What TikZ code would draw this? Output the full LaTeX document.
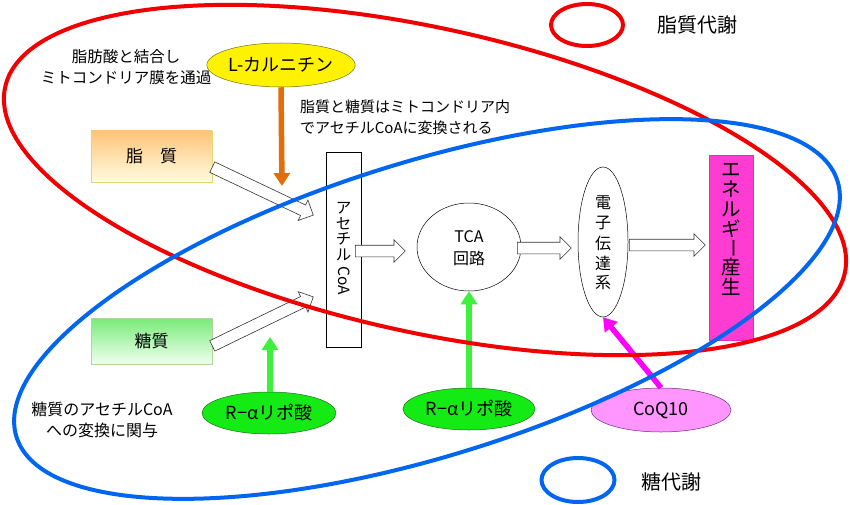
\documentclass[tikz,border=0pt]{standalone}
\usepackage{fontspec}
\setmainfont{Noto Sans CJK JP}
\usetikzlibrary{arrows.meta,shapes.geometric,shapes.arrows,calc}
\definecolor{redline}{RGB}{240,0,0}
\definecolor{blueline}{RGB}{0,102,240}
\definecolor{orangearr}{RGB}{228,108,10}
\definecolor{greenfill}{RGB}{20,235,20}
\definecolor{greenarr}{RGB}{60,240,60}
\definecolor{magbox}{RGB}{255,60,210}
\definecolor{magarr}{RGB}{255,0,255}
\definecolor{coqfill}{RGB}{255,150,255}
\newcommand\fs[2]{\fontsize{#1}{#2}\selectfont}
\newcommand\blockarrow[3]{\path let \p1=(#2), \p2=(#3), \n1={atan2(\y2-\y1,\x2-\x1)}, \n2={veclen(\x2-\x1,\y2-\y1)} in node[barrow, minimum height=\n2, rotate=\n1, anchor=tail] (#1) at (\p1) {};}
\tikzset{
  barrow/.style={single arrow, draw=black!80, fill=white, line width=0.6pt, inner xsep=0pt, inner ysep=5.5pt, single arrow head extend=5.5pt, single arrow tip angle=90},
  ellnode/.style={ellipse, draw, line width=0.5pt, inner sep=0pt},
  colarrow/.style={line width=5.5pt, -{Triangle[length=13pt,width=16pt]}},
  bigell/.style={line width=4pt},
  note/.style={inner sep=0pt, font=\fs{15.5}{20.5}},
  legtext/.style={inner sep=0pt, font=\fs{20}{24}},
  vch/.style={inner sep=0pt}
}
\begin{document}
\begin{tikzpicture}[x=1pt,y=-1pt]
\useasboundingbox[fill=white] (0,0) rectangle (850,505);

% source boxes
\node[rectangle, draw={rgb,255:red,230;green,210;blue,110}, top color={rgb,255:red,255;green,196;blue,120}, bottom color={rgb,255:red,255;green,252;blue,225}, minimum width=121pt, minimum height=51pt, font=\fs{17}{20}] (lipid) at (151.5,156.5) {脂　質};
\node[rectangle, draw={rgb,255:red,175;green,215;blue,155}, top color={rgb,255:red,120;green,235;blue,120}, bottom color={rgb,255:red,240;green,255;blue,240}, minimum width=121pt, minimum height=46pt, font=\fs{17}{20}] (sugar) at (151.5,341) {糖質};

% acetyl CoA
\node[rectangle, draw, line width=0.6pt, fill=white, minimum width=35pt, minimum height=195pt, inner sep=0pt] (acoa) at (343.5,249.5) {};
\foreach \ch [count=\i from 0] in {ア,セ,チ,ル}
  \node[vch, font=\fs{15.5}{16}] (ac\i) at (343.5,208+15.6*\i) {\ch};
\node[vch, font=\fs{15.5}{16}, rotate=-90] (accoa) at (344,281) {CoA};

% TCA
\node[ellnode, fill=white, minimum width=104pt, minimum height=88pt] (tca) at (469,247) {};
\node[vch, font=\fs{16}{16}] (tcat) at (469,237) {TCA};
\node[vch, font=\fs{16}{16}] (tcak) at (469,258) {回路};

% electron transport
\node[ellnode, fill=white, minimum width=50pt, minimum height=150pt] (etc) at (603,242) {};
\foreach \ch [count=\i from 0] in {電,子,伝,達,系}
  \node[vch, font=\fs{16}{16}] (et\i) at (603,203+20*\i) {\ch};

% energy
\node[rectangle, fill=magbox, draw=magbox!85!black, line width=0.4pt, minimum width=44pt, minimum height=185pt] (energy) at (731,247.5) {};
\foreach \ch [count=\i from 0] in {エ,ネ,ル,ギ}
  \node[vch, font=\fs{19.5}{20}] (en\i) at (731,170+19.5*\i) {\ch};
\node[vch, font=\fs{19.5}{20}, rotate=-90] (en4) at (731,248) {ー};
\node[vch, font=\fs{19.5}{20}] (en5) at (731,267.5) {産};
\node[vch, font=\fs{19.5}{20}] (en6) at (731,287) {生};

% supplements
\node[ellnode, fill=yellow, draw={rgb,255:red,110;green,110;blue,40}, minimum width=132pt, minimum height=44pt, font=\fs{18}{20}] (carn) at (281,65) {L-カルニチン};
\node[ellnode, fill=greenfill, draw={rgb,255:red,30;green,110;blue,30}, minimum width=134pt, minimum height=42pt, font=\fs{18}{20}] (rala1) at (269,413) {R−αリポ酸};
\node[ellnode, fill=greenfill, draw={rgb,255:red,30;green,110;blue,30}, minimum width=132pt, minimum height=42pt, font=\fs{18}{20}] (rala2) at (469,409) {R−αリポ酸};
\node[ellnode, fill=coqfill, draw={rgb,255:red,110;green,40;blue,130}, minimum width=140pt, minimum height=44pt, font=\fs{18}{20}] (coq) at (661,410) {CoQ10};

% notes
\node[note, align=center] (note1) at (126,67) {脂肪酸と結合し\\ミトコンドリア膜を通過};
\node[note, align=left, anchor=west, font=\fs{15}{21}] (note2) at (300,117.5) {脂質と糖質はミトコンドリア内\\でアセチルCoAに変換される};
\node[note, align=center, font=\fs{16}{20.5}] (note3) at (102,420) {糖質のアセチルCoA\\への変換に関与};

% block arrows
\coordinate (a1s) at (212,167);
\coordinate (a1e) at (313,215);
\coordinate (a2s) at (212,346);
\coordinate (a2e) at (313,297);
\coordinate (a3s) at (355,251);
\coordinate (a3e) at (405,251);
\coordinate (a4s) at (517,248);
\coordinate (a4e) at (571,248);
\coordinate (a5s) at (629,245);
\coordinate (a5e) at (705,245);
\blockarrow{b1}{a1s}{a1e}
\blockarrow{b2}{a2s}{a2e}
\blockarrow{b3}{a3s}{a3e}
\blockarrow{b4}{a4s}{a4e}
\blockarrow{b5}{a5s}{a5e}

% coloured arrows
\coordinate (carntip) at (282,186);
\coordinate (r1tip) at (270,337);
\draw[colarrow, orangearr] (carn.south) -- (carntip);
\draw[colarrow, greenarr] (rala1.north -| r1tip) -- (r1tip);
\draw[colarrow, greenarr] (rala2.north) -- (tca.south);
\draw[colarrow, magarr] (coq.north) -- (etc.south);

% big ellipses
\coordinate (redc) at (425,180);
\coordinate (bluec) at (427,309);
\draw[bigell, redline, rotate around={-12.5:(redc)}] (redc) ellipse [x radius=430pt, y radius=152pt];
\draw[bigell, blueline, rotate around={17.3:(bluec)}] (bluec) ellipse [x radius=430pt, y radius=147pt];

% legend
\node[ellipse, draw=redline, line width=4pt, minimum width=72pt, minimum height=42pt, inner sep=0pt] (legred) at (587,25) {};
\node[legtext] (legredtext) at (697,25) {脂質代謝};
\node[ellipse, draw=blueline, line width=4pt, minimum width=73pt, minimum height=44pt, inner sep=0pt] (legblue) at (578,480) {};
\node[legtext] (legbluetext) at (671,482) {糖代謝};
\end{tikzpicture}
\end{document}
